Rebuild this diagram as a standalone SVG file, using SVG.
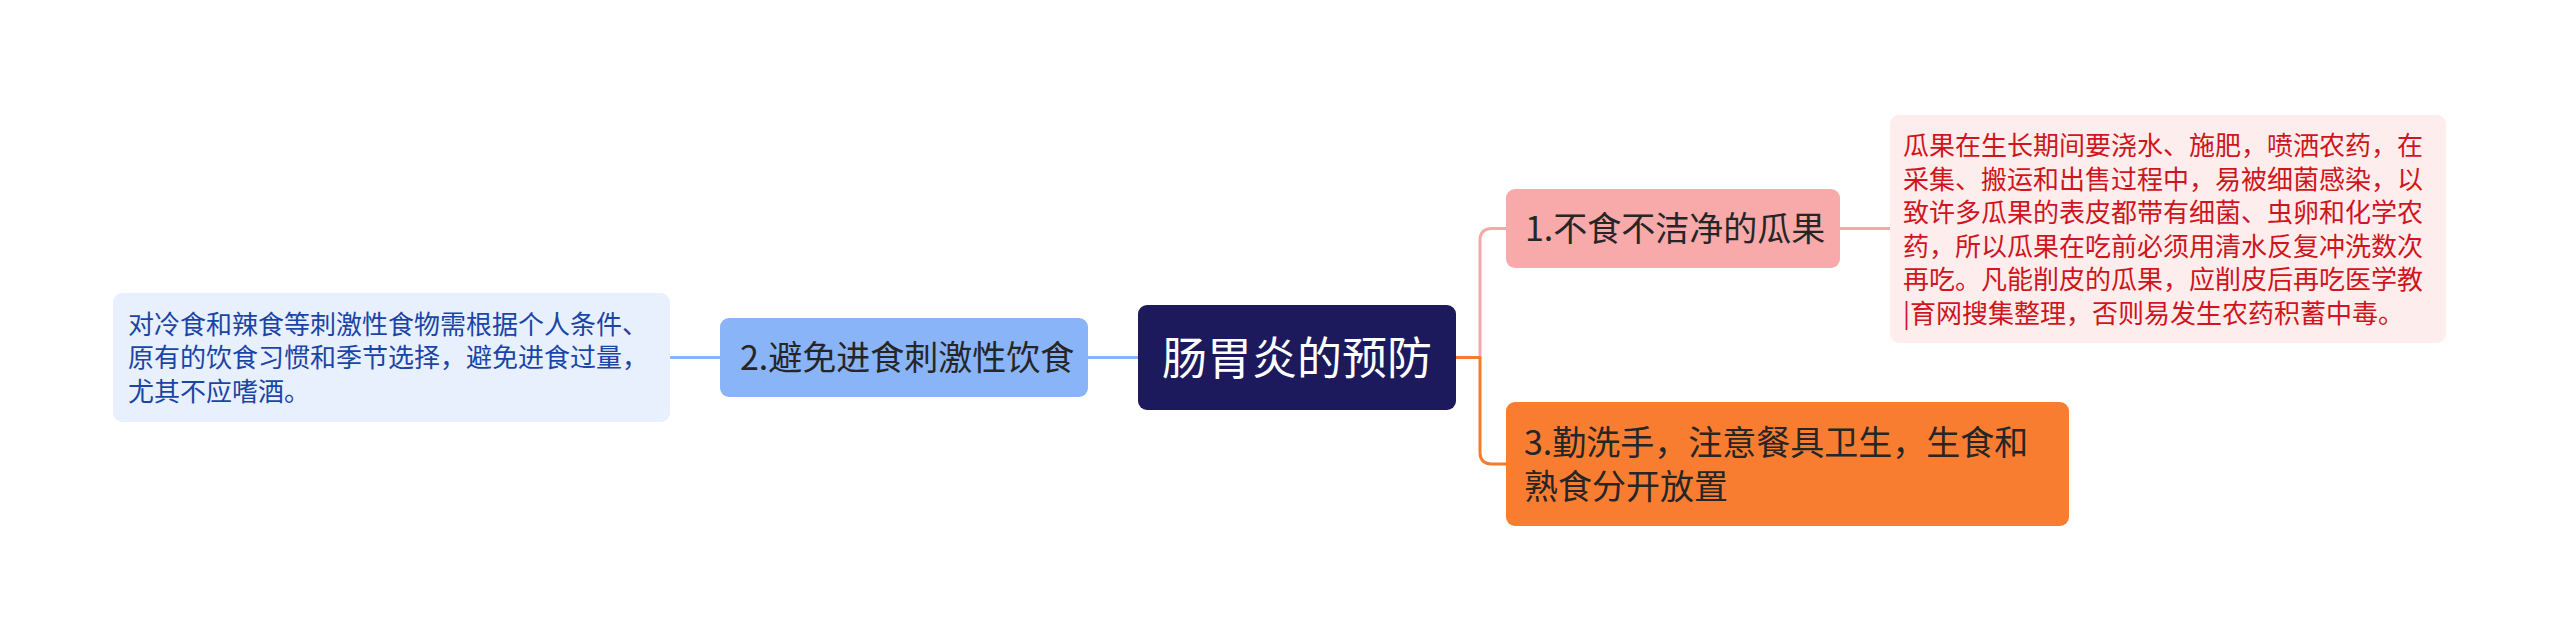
<svg xmlns="http://www.w3.org/2000/svg" width="2560" height="640" viewBox="0 0 2560 640">
<style>
.t{font-family:"Noto Sans CJK SC","Noto Sans",sans-serif}
.root{font-size:45px;fill:#ffffff}
.mid{font-size:34px;fill:#262626}
.leaf{font-size:26px}
.c{fill:none;stroke-width:3;stroke-linecap:round;stroke-linejoin:round}
</style>
<rect width="2560" height="640" fill="#ffffff"/>
<g id="connectors">
<path class="c" stroke="#8ab4f8" d="M1138,357.5 H1088"/>
<path class="c" stroke="#8ab4f8" d="M720,357.5 H670"/>
<path class="c" stroke="#f4a9a9" d="M1456,357.5 H1480 V240.5 Q1480,228.5 1492,228.5 H1506"/>
<path class="c" stroke="#f4a9a9" d="M1840,228.5 H1890"/>
<path class="c" stroke="#f57c2e" d="M1456,357.5 H1480 V452 Q1480,464 1492,464 H1506"/>
</g>
<g id="root">
<rect x="1138" y="305" width="318" height="105" rx="9" fill="#1c1a5c"/>
<text class="t root" x="1297" y="375" text-anchor="middle">肠胃炎的预防</text>
</g>
<g id="node2">
<rect x="720" y="318" width="368" height="79" rx="9" fill="#8ab4f8"/>
<text class="t mid" x="740" y="370">2.避免进食刺激性饮食</text>
</g>
<g id="leaf2">
<rect x="113" y="293" width="557" height="129" rx="9" fill="#e8f0fe"/>
<text class="t leaf" fill="#1a45a6" x="128" y="333.6">对冷食和辣食等刺激性食物需根据个人条件、<tspan x="128" y="367.4">原有的饮食习惯和季节选择，避免进食过量，</tspan><tspan x="128" y="401.2">尤其不应嗜酒。</tspan></text>
</g>
<g id="node1">
<rect x="1506" y="189" width="334" height="79" rx="9" fill="#f8a9a9"/>
<text class="t mid" x="1525" y="241">1.不食不洁净的瓜果</text>
</g>
<g id="leaf1">
<rect x="1890" y="115" width="556" height="228" rx="9" fill="#fdeded"/>
<text class="t leaf" fill="#cf1520" x="1903" y="155"><tspan x="1903" y="155">瓜果在生长期间要浇水、施肥，喷洒农药，在</tspan><tspan x="1903" y="188.5">采集、搬运和出售过程中，易被细菌感染，以</tspan><tspan x="1903" y="222">致许多瓜果的表皮都带有细菌、虫卵和化学农</tspan><tspan x="1903" y="255.5">药，所以瓜果在吃前必须用清水反复冲洗数次</tspan><tspan x="1903" y="289">再吃。凡能削皮的瓜果，应削皮后再吃医学教</tspan><tspan x="1903" y="322.5">|育网搜集整理，否则易发生农药积蓄中毒。</tspan></text>
</g>
<g id="node3">
<rect x="1506" y="402" width="563" height="124" rx="9" fill="#f97d31"/>
<text class="t mid" x="1524" y="455.4"><tspan x="1524" y="455.4">3.勤洗手，注意餐具卫生，生食和</tspan><tspan x="1524" y="498.7">熟食分开放置</tspan></text>
</g>
</svg>
